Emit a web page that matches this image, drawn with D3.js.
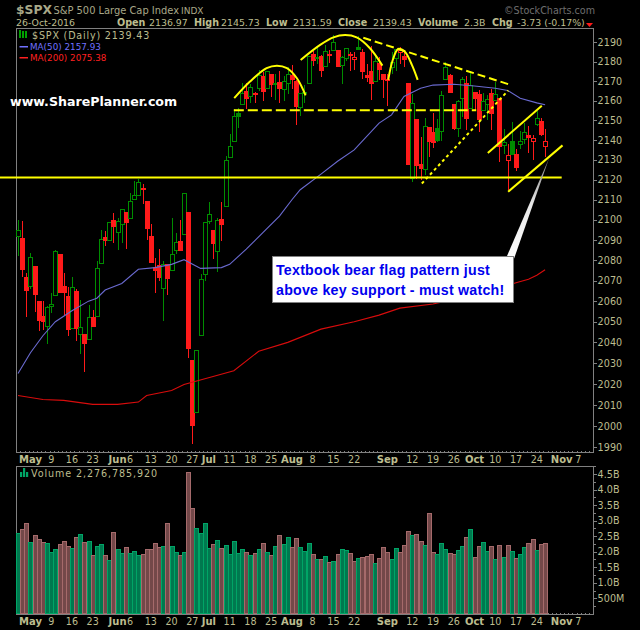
<!DOCTYPE html>
<html lang="en">
<head>
<meta charset="UTF-8">
<title>$SPX Daily</title>
<script src="https://d3js.org/d3.v7.min.js"></script>
<style>
  html, body { margin: 0; background: #000; }
  svg { display: block; font-family: "DejaVu Sans", sans-serif; }
  .tan { fill: #bdbd8f; }
  .axis path, .axis line { stroke: #808080; }
</style>
</head>
<body>
<svg id="chart" width="640" height="630"></svg>
<script>
// trading days, Apr 27 -> Oct 26 2016, then the empty sessions up to Nov 7
const dates = ["04-27","04-28","04-29","05-02","05-03","05-04","05-05","05-06","05-09","05-10","05-11","05-12","05-13","05-16","05-17","05-18","05-19","05-20","05-23","05-24","05-25","05-26","05-27","05-31","06-01","06-02","06-03","06-06","06-07","06-08","06-09","06-10","06-13","06-14","06-15","06-16","06-17","06-20","06-21","06-22","06-23","06-24","06-27","06-28","06-29","06-30","07-01","07-05","07-06","07-07","07-08","07-11","07-12","07-13","07-14","07-15","07-18","07-19","07-20","07-21","07-22","07-25","07-26","07-27","07-28","07-29","08-01","08-02","08-03","08-04","08-05","08-08","08-09","08-10","08-11","08-12","08-15","08-16","08-17","08-18","08-19","08-22","08-23","08-24","08-25","08-26","08-29","08-30","08-31","09-01","09-02","09-06","09-07","09-08","09-09","09-12","09-13","09-14","09-15","09-16","09-19","09-20","09-21","09-22","09-23","09-26","09-27","09-28","09-29","09-30","10-03","10-04","10-05","10-06","10-07","10-10","10-11","10-12","10-13","10-14","10-17","10-18","10-19","10-20","10-21","10-24","10-25","10-26"];
const futureDates = ["10-27","10-28","10-31","11-01","11-02","11-03","11-04","11-07"];

const opens = [2092.33,2090.93,2071.82,2067.17,2077.18,2060.30,2052.95,2047.77,2057.55,2062.63,2083.29,2067.17,2062.50,2046.53,2065.04,2044.38,2044.21,2041.88,2052.23,2052.65,2078.93,2091.44,2090.06,2100.13,2093.94,2097.71,2104.07,2100.83,2110.18,2112.71,2115.65,2109.57,2091.75,2076.65,2077.60,2066.36,2078.20,2075.58,2085.19,2089.75,2092.80,2103.81,2031.45,2006.67,2043.29,2073.17,2099.34,2095.05,2084.43,2100.42,2106.97,2131.72,2139.50,2153.81,2157.88,2165.13,2162.04,2163.79,2166.10,2172.91,2166.47,2173.71,2168.97,2169.81,2166.05,2168.83,2173.15,2169.94,2156.81,2163.51,2168.79,2183.76,2182.24,2182.81,2177.97,2183.74,2186.08,2186.24,2177.84,2181.90,2184.24,2181.58,2187.81,2185.09,2173.29,2175.10,2170.19,2179.45,2173.57,2171.33,2177.49,2181.61,2185.17,2182.76,2169.08,2120.86,2150.47,2127.86,2125.36,2146.48,2143.99,2145.94,2144.58,2170.94,2173.29,2158.54,2146.04,2161.85,2168.90,2156.51,2164.33,2163.37,2155.15,2158.22,2164.19,2160.39,2161.35,2137.67,2130.26,2139.68,2132.95,2138.31,2140.81,2142.51,2139.43,2148.50,2149.72,2136.97];
const highs = [2099.89,2099.30,2073.85,2083.42,2077.18,2060.30,2060.23,2057.72,2064.15,2084.87,2083.29,2073.99,2066.79,2071.88,2065.69,2060.61,2044.21,2058.35,2055.58,2079.67,2094.73,2094.30,2099.06,2103.48,2100.97,2105.26,2104.07,2113.36,2119.22,2120.55,2117.64,2109.57,2098.12,2081.30,2085.65,2079.62,2078.20,2100.66,2093.66,2099.71,2113.32,2103.81,2031.45,2036.09,2073.13,2098.94,2108.71,2095.05,2100.72,2109.08,2131.71,2143.16,2155.79,2156.45,2168.99,2169.05,2168.35,2164.63,2175.63,2174.56,2175.11,2173.71,2173.54,2174.98,2172.85,2177.09,2178.29,2170.84,2163.79,2168.19,2182.87,2185.44,2187.66,2183.41,2188.45,2186.28,2193.81,2186.24,2183.08,2187.03,2185.00,2185.15,2193.42,2186.66,2179.00,2187.94,2183.48,2182.27,2173.57,2173.56,2184.87,2186.57,2187.87,2184.94,2169.08,2163.30,2150.47,2141.33,2151.31,2146.48,2153.61,2150.80,2165.11,2179.99,2173.75,2158.54,2160.39,2172.40,2172.67,2175.30,2164.33,2165.46,2163.95,2162.93,2165.86,2169.60,2161.56,2145.36,2138.19,2149.19,2135.70,2144.38,2148.44,2147.18,2142.63,2154.79,2151.44,2145.73];
const lows = [2082.31,2071.62,2052.28,2066.11,2054.89,2045.55,2045.77,2039.45,2054.31,2062.63,2064.46,2053.13,2043.13,2046.53,2040.82,2034.49,2025.91,2041.88,2047.26,2052.65,2078.93,2087.08,2090.06,2088.66,2085.10,2088.59,2085.36,2100.83,2110.18,2112.71,2107.73,2089.96,2078.76,2064.10,2069.80,2050.37,2062.84,2075.58,2083.02,2084.36,2092.80,2032.57,1991.68,2006.67,2043.29,2070.00,2097.90,2080.86,2074.02,2089.39,2106.97,2131.72,2139.50,2146.21,2157.88,2155.79,2159.07,2159.01,2164.89,2159.75,2166.47,2161.95,2160.18,2159.07,2159.74,2163.49,2166.21,2147.58,2152.02,2159.07,2168.79,2177.85,2178.61,2172.00,2177.97,2179.42,2186.08,2178.14,2168.50,2180.46,2175.13,2175.96,2186.80,2171.25,2169.74,2160.39,2170.19,2170.41,2161.35,2157.09,2173.59,2175.10,2179.07,2177.49,2127.81,2119.12,2120.27,2119.90,2122.36,2131.20,2135.91,2139.17,2139.57,2170.94,2163.97,2145.04,2141.55,2151.79,2145.20,2156.51,2154.77,2144.01,2155.15,2150.28,2144.85,2160.39,2128.84,2132.77,2114.72,2132.98,2124.43,2135.49,2138.15,2133.44,2130.09,2146.91,2141.93,2131.59];
const closes = [2095.15,2075.81,2065.30,2081.43,2063.37,2051.12,2050.63,2057.14,2058.69,2084.39,2064.46,2064.11,2046.61,2066.66,2047.21,2047.63,2040.04,2052.32,2048.04,2076.06,2090.54,2090.10,2099.06,2096.95,2099.33,2105.26,2099.13,2109.41,2112.13,2119.12,2115.48,2096.07,2079.06,2075.32,2071.50,2077.99,2071.22,2083.25,2088.90,2085.45,2113.32,2037.41,2000.54,2036.09,2070.77,2098.86,2102.95,2088.55,2099.73,2097.90,2129.90,2137.16,2152.14,2152.43,2163.75,2161.74,2166.89,2163.78,2173.02,2165.17,2175.03,2168.48,2169.18,2166.58,2170.06,2173.60,2170.84,2157.03,2163.79,2164.25,2182.87,2180.89,2181.74,2175.49,2185.79,2184.05,2190.15,2178.15,2182.22,2187.02,2183.87,2182.64,2186.90,2175.44,2172.47,2169.04,2180.38,2176.12,2170.95,2170.86,2179.98,2186.48,2186.16,2181.30,2127.81,2159.04,2127.02,2125.77,2147.26,2139.16,2139.12,2139.76,2163.12,2177.18,2164.69,2146.10,2159.93,2171.37,2151.13,2168.27,2161.20,2150.49,2159.73,2160.77,2153.74,2163.66,2136.73,2139.18,2132.55,2132.98,2126.50,2139.60,2144.29,2141.34,2141.16,2151.33,2143.16,2139.43];
// billions
const volumes = [2.58,2.71,2.90,2.29,2.52,2.39,2.29,2.26,1.97,2.06,2.23,2.32,2.16,2.10,2.45,2.55,2.29,2.32,1.87,2.16,2.23,1.87,1.71,2.61,2.06,1.94,2.13,1.94,2.00,1.87,1.90,2.06,2.06,2.26,2.13,2.16,2.90,2.16,1.97,1.87,1.97,4.55,3.39,2.74,2.58,2.90,2.10,2.23,2.35,2.10,2.19,1.90,2.32,1.94,2.06,1.97,1.87,1.94,2.06,2.26,1.97,1.87,2.16,2.52,2.23,2.45,2.13,2.42,2.13,2.00,2.26,1.90,1.74,1.74,1.84,1.65,1.68,1.90,2.06,2.03,1.94,1.68,1.77,1.81,1.84,1.90,1.61,1.77,2.13,1.97,1.74,2.10,1.97,2.19,2.65,2.52,2.55,2.32,2.19,3.23,1.97,1.90,2.26,2.06,1.94,1.90,2.03,2.16,2.45,2.71,1.81,2.16,2.29,2.00,2.16,1.74,2.19,1.81,2.19,2.00,1.77,1.90,2.13,2.26,2.39,2.03,2.23,2.28];

// moving averages: bar index, value
const ma50Idx = [0,3,6,9,13,17,19,21,25,29,33,37,40,44,49,51,55,59,63,66,68,73,77,81,87,90,93,97,100,105,110,115,118,121,125,127];
const ma50Val = [2025,2035,2043.2,2050,2055.3,2060,2061.4,2065.4,2068.6,2075.6,2076.4,2078,2080.3,2076,2076.4,2078,2085.5,2093.6,2101.8,2110,2115,2122.8,2129.3,2135,2148.6,2152.8,2162.2,2166.4,2168,2168.4,2167.5,2166.4,2165.2,2161.3,2158.9,2157.93];
const ma200Idx = [0,6,11,18,24,29,31,37,40,47,52,58,65,73,81,87,92,100,110,120,123,125,127];
const ma200Val = [2014.5,2012.6,2012.2,2010.3,2010.3,2011.4,2014.5,2016.9,2019.8,2023.6,2026.4,2035.7,2040,2046.4,2050,2053.2,2056.6,2058.6,2063,2069,2070.7,2072.7,2075.38];

const priceTicks = d3.range(1990, 2191, 10);
const volumeTicks = [0.5,1,1.5,2,2.5,3,3.5,4,4.5];
const volumeMinor = d3.range(0.25, 4.76, 0.25);
const weekTicks = [["05-09","9"],["05-16","16"],["05-23","23"],["06-06","6"],["06-13","13"],["06-20","20"],["06-27","27"],["07-11","11"],["07-18","18"],["07-25","25"],["08-08","8"],["08-15","15"],["08-22","22"],["09-12","12"],["09-19","19"],["09-26","26"],["10-10","10"],["10-17","17"],["10-24","24"],["11-07","7"]];
const monthTicks = [["05-02","May"],["06-01","Jun"],["07-01","Jul"],["08-01","Aug"],["09-01","Sep"],["10-03","Oct"],["11-01","Nov"]];

// hand drawn annotations: bar index, price
const arcs = [
  [[52.1,2161.3],[55.9,2169.8],[59.9,2176.7],[62.4,2178],[64.8,2176.7],[67.2,2171.5],[69.3,2162.7]],
  [[68.1,2180.9],[72.8,2188.7],[76,2192.6],[78.8,2193.8],[81.6,2192.6],[84.8,2187],[87.8,2178]],
  [[89.2,2170.7],[90.3,2180.9],[91.6,2186.6],[93.2,2185.2],[94.9,2178.4],[96.3,2170.7]]
];
const neckline = [[52,2155.1],[110.4,2155.1]];
const downTrend = [[83.2,2192.4],[118.1,2168.5]];
const upTrend = [[97.3,2118.1],[118.1,2165.2]];
const flagTop = [[113.2,2133.5],[126.2,2157.4]];
const flagBottom = [[118.1,2114],[131.2,2137.3]];
const support = [[-4.4,2121.1],[131,2121.1]];
const pointer = [[117.8,2082],[128,2131.1],[119.3,2079.5]];

const panel = {left: 16.5, right: 593.5, top: 28.5, bottom: 452.5};
const volPanel = {top: 466.5, bottom: 614.5};

const allDates = dates.concat(futureDates);
const x = d3.scaleLinear().domain([0, allDates.length - 1]).range([18, 578.3]);
const y = d3.scaleLog().domain([1990, 2190]).range([447.3, 42.4]);
const yVol = d3.scaleLinear().domain([0, 4.5]).range([613.9, 474]);
const px = i => Math.round(x(i));

const svg = d3.select("#chart");
const tan = "#bdbd8f";

function frame(top, bottom) {
  svg.append("path")
    .attr("d", `M${panel.left},${bottom}V${top}H${panel.right}V${bottom}H${panel.left}`)
    .attr("fill", "none").attr("stroke", "#808080").attr("shape-rendering", "crispEdges");
}
frame(panel.top, panel.bottom);
frame(volPanel.top, volPanel.bottom);

// right hand axes
const priceAxis = svg.append("g").attr("class", "axis")
  .attr("transform", `translate(${panel.right},0)`)
  .attr("shape-rendering", "crispEdges")
  .call(d3.axisRight(y).tickValues(priceTicks).tickFormat(d3.format("d")).tickSize(3).tickPadding(1));
priceAxis.select(".domain").remove();

const volAxisMinor = svg.append("g").attr("class", "axis")
  .attr("transform", `translate(${panel.right},0)`)
  .attr("shape-rendering", "crispEdges")
  .call(d3.axisRight(yVol).tickValues(volumeMinor).tickFormat("").tickSize(2));
volAxisMinor.select(".domain").remove();
const volAxis = svg.append("g").attr("class", "axis")
  .attr("transform", `translate(${panel.right},0)`)
  .attr("shape-rendering", "crispEdges")
  .call(d3.axisRight(yVol).tickValues(volumeTicks)
    .tickFormat(d => d < 1 ? (d * 1000) + "M" : d.toFixed(1) + "B").tickSize(3).tickPadding(1));
volAxis.select(".domain").remove();
svg.selectAll(".axis text").attr("fill", tan).attr("font-size", 9.6)
  .attr("font-family", '"DejaVu Sans", sans-serif').attr("letter-spacing", 0.1);

// bottom axes: ticks for every session, labels for weeks and months
[panel.bottom, volPanel.bottom].forEach(base => {
  const labelY = base + 10;
  const g = svg.append("g").attr("transform", `translate(0,${base})`);
  g.append("g").attr("shape-rendering", "crispEdges")
    .selectAll("line").data(d3.range(-0.4, 138.6, 1)).join("line")
    .attr("x1", d => Math.round(x(d)) + 0.5).attr("x2", d => Math.round(x(d)) + 0.5)
    .attr("y1", -2).attr("y2", 0).attr("stroke", "#808080");
  svg.append("g").selectAll("text").data(weekTicks).join("text")
    .attr("x", d => x(allDates.indexOf(d[0]))).attr("y", labelY)
    .attr("text-anchor", "middle").attr("font-size", 9.6).attr("fill", tan).text(d => d[1]);
  svg.append("g").selectAll("text").data(monthTicks).join("text")
    .attr("x", d => x(allDates.indexOf(d[0]))).attr("y", labelY)
    .attr("text-anchor", "middle").attr("font-size", 10).attr("font-weight", "bold").attr("fill", tan).text(d => d[1]);
});

// volume bars
const isUp = i => i === 0 ? closes[0] >= opens[0] : closes[i] >= closes[i - 1];
svg.append("g").attr("shape-rendering", "crispEdges")
  .selectAll("rect").data(volumes).join("rect")
  .attr("x", (d, i) => px(i) - 1.5).attr("width", 4)
  .attr("y", d => yVol(d)).attr("height", d => yVol(0) - yVol(d))
  .attr("fill", (d, i) => isUp(i) ? "#00794f" : "#734849")
  .attr("stroke", (d, i) => isUp(i) ? "#00a566" : "#a56a6b");

// candles
const candleColor = i => isUp(i) ? "#008c00" : "#ff1a1a";
const candles = svg.append("g").attr("shape-rendering", "crispEdges")
  .selectAll("g").data(closes).join("g");
candles.append("line")
  .attr("x1", (d, i) => px(i) + 0.5).attr("x2", (d, i) => px(i) + 0.5)
  .attr("y1", (d, i) => y(highs[i])).attr("y2", (d, i) => y(lows[i]))
  .attr("stroke", (d, i) => candleColor(i));
candles.append("rect")
  .attr("x", (d, i) => px(i) - 1.5).attr("width", 4)
  .attr("y", (d, i) => Math.round(y(Math.max(opens[i], closes[i]))) + 0.5)
  .attr("height", (d, i) => Math.max(1, Math.round(Math.abs(y(opens[i]) - y(closes[i])))))
  .attr("fill", (d, i) => closes[i] >= opens[i] ? "#000" : candleColor(i))
  .attr("stroke", (d, i) => candleColor(i));

// moving averages
const maLine = d3.line().x(d => x(d[0])).y(d => y(d[1]));
svg.append("path").datum(ma50Idx.map((d, i) => [d, ma50Val[i]]))
  .attr("d", maLine).attr("fill", "none").attr("stroke", "#6a6ad0").attr("stroke-width", 1.1);
svg.append("path").datum(ma200Idx.map((d, i) => [d, ma200Val[i]]))
  .attr("d", maLine).attr("fill", "none").attr("stroke", "#d80c0c").attr("stroke-width", 1.1);

// annotations
const yellow = "#ffff00";
const straight = d3.line().x(d => x(d[0])).y(d => y(d[1]));
const curved = d3.line().x(d => x(d[0])).y(d => y(d[1])).curve(d3.curveCatmullRom);
arcs.forEach(a => svg.append("path").datum(a).attr("d", curved)
  .attr("fill", "none").attr("stroke", yellow).attr("stroke-width", 2));
[[neckline, "10,4"], [downTrend, "8,4"], [upTrend, "3,3"], [flagTop, null], [flagBottom, null], [support, null]].forEach(([pts, dash]) => {
  svg.append("path").datum(pts).attr("d", straight)
    .attr("fill", "none").attr("stroke", yellow).attr("stroke-width", 2)
    .attr("stroke-dasharray", dash);
});

// callout
const defs = svg.append("defs");
const grad = defs.append("linearGradient").attr("id", "pointerFill")
  .attr("gradientUnits", "userSpaceOnUse")
  .attr("x1", x(118)).attr("y1", y(2082)).attr("x2", x(128)).attr("y2", y(2131));
grad.append("stop").attr("offset", "0%").attr("stop-color", "#fff");
grad.append("stop").attr("offset", "55%").attr("stop-color", "#e6e6e6");
grad.append("stop").attr("offset", "100%").attr("stop-color", "#777");
svg.append("path").datum(pointer)
  .attr("d", d => straight(d) + "Z").attr("fill", "url(#pointerFill)");
svg.append("rect").attr("x", 272.5).attr("y", 256.5).attr("width", 241).attr("height", 46)
  .attr("fill", "#fff").attr("stroke", "#808080").attr("shape-rendering", "crispEdges");
["Textbook bear flag pattern just", "above key support - must watch!"].forEach((t, i) => {
  svg.append("text").attr("x", 276).attr("y", 275 + i * 20.3)
    .attr("font-family", '"Liberation Sans", sans-serif').attr("letter-spacing", 0.25)
    .attr("font-size", 14.2).attr("font-weight", "bold").attr("fill", "#0000ee").text(t);
});
svg.append("text").attr("x", 10).attr("y", 106)
  .attr("font-size", 12.6).attr("font-weight", "bold").attr("fill", "#fff").text("www.SharePlanner.com");

// header
const label = (txt, xPos, yPos, size, bold, fill, spacing) => svg.append("text")
  .attr("x", xPos).attr("y", yPos).attr("font-size", size).attr("letter-spacing", spacing || 0)
  .attr("font-weight", bold ? "bold" : "normal").attr("fill", fill || tan).text(txt);
label("$SPX", 16, 14, 12.3, true, "#a8a888");
label("S&P 500 Large Cap Index", 53.5, 14, 9.9, false, "#a8a888");
label("INDX", 181, 14, 9, false, "#a8a888");
label("\u00a9StockCharts.com", 504, 13.5, 9.6, false, "#6e6e6e");
label("26-Oct-2016", 16, 26, 9.4);
[["Open",117,"2136.97",149],["High",194,"2145.73",221],["Low",266,"2131.59",293],["Close",338,"2139.43",373],["Volume",418,"2.3B",464],["Chg",492,"-3.73 (-0.17%)",517]].forEach(d => {
  label(d[0], d[1], 26, 9.6, true);
  label(d[2], d[3], 26, 9.4);
});
svg.append("path").datum([[586,23],[593,23],[589.5,27]])
  .attr("d", d3.line()).attr("fill", "#ff1a1a");

// legends
label("$SPX (Daily) 2139.43", 32, 39, 9.6, false, tan, 0.8);
label("MA(50) 2157.93", 30, 50, 8.8, false, "#7070ff");
label("MA(200) 2075.38", 30, 61, 8.8, false, "#ff2020");
svg.append("rect").attr("x", 19.5).attr("y", 46).attr("width", 8.5).attr("height", 1.5).attr("fill", "#7070ff");
svg.append("rect").attr("x", 19.5).attr("y", 57).attr("width", 8.5).attr("height", 1.5).attr("fill", "#ff2020");
const legendIcon = [[20, 32, 36, 30, 38], [23, 33, 37, 31, 38], [26, 32, 36, 31, 38]];
svg.append("g").selectAll("line").data(legendIcon).join("line")
  .attr("x1", d => d[0]).attr("x2", d => d[0]).attr("y1", d => d[3]).attr("y2", d => d[4])
  .attr("stroke", "#00a000").attr("stroke-width", 2);
label("Volume 2,276,785,920", 31, 477, 9.6, false, tan, 0.9);
svg.append("g").selectAll("rect").data([[20,5],[23,9],[26,5]]).join("rect")
  .attr("x", d => d[0]).attr("y", d => 477 - d[1]).attr("width", 2.2).attr("height", d => d[1]).attr("fill", "#00a566");
</script>
</body>
</html>
